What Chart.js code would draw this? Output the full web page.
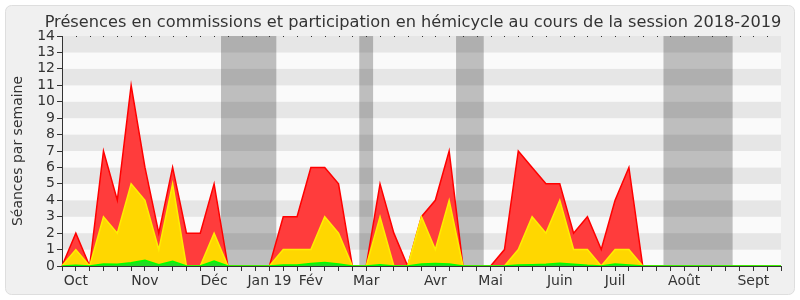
<!DOCTYPE html>
<html>
<head>
<meta charset="utf-8">
<script src="https://cdn.jsdelivr.net/npm/chart.js@4/dist/chart.umd.min.js"></script>
<style>
  html, body { margin: 0; padding: 0; background: #fff; }
  #wrap { width: 800px; height: 300px; }
</style>
</head>
<body>
<div id="wrap"><canvas id="chart" width="800" height="300"></canvas></div>
<script>
// weekly data, session 2018-2019 (53 points, one per week)
var presences = [0, 2, 0, 7, 4, 11, 6, 2, 6, 2, 2, 5, 0, 0, 0, 0, 3, 3, 6, 6, 5, 0, 0, 5, 2, 0, 3, 4, 7, 0, 0, 0, 1, 7, 6, 5, 5, 2, 3, 1, 4, 6, 0, 0, 0, 0, 0, 0, 0, 0, 0, 0, 0];
var commissions = [0, 1, 0, 3, 2, 5, 4, 1, 5, 0, 0, 2, 0, 0, 0, 0, 1, 1, 1, 3, 2, 0, 0, 3, 0, 0, 3, 1, 4, 0, 0, 0, 0, 1, 3, 2, 4, 1, 1, 0, 1, 1, 0, 0, 0, 0, 0, 0, 0, 0, 0, 0, 0];
var hemicycle = [0, 0.05, 0, 0.12, 0.1, 0.2, 0.35, 0.08, 0.28, 0, 0, 0.3, 0, 0, 0, 0, 0.06, 0.06, 0.15, 0.22, 0.12, 0, 0, 0.08, 0, 0, 0.12, 0.15, 0.12, 0, 0, 0, 0, 0.06, 0.08, 0.1, 0.16, 0.1, 0.04, 0, 0.12, 0.06, 0, 0, 0, 0, 0, 0, 0, 0, 0, 0, 0];

var monthNames = ['Oct', 'Nov', 'Déc', 'Jan 19', 'Fév', 'Mar', 'Avr', 'Mai', 'Juin', 'Juil', 'Août', 'Sept'];
var monthWeeks = [1, 6, 11, 15, 18, 22, 27, 31, 36, 40, 45, 50];

// vacances parlementaires (en semaines)
var vacStart = [11.5, 21.5, 28.5, 43.5];
var vacEnd = [15.5, 22.5, 30.5, 48.5];

var weekLabels = presences.map(function(v, i) {
    var k = monthWeeks.indexOf(i);
    return k >= 0 ? monthNames[k] : '';
});

var fontFamily = "'DejaVu Sans', Verdana, sans-serif";

//backgrounds, stripes, holiday bands and title
var decorPlugin = {
    id: 'decor',
    beforeDraw: function(chart) {
        var ctx = chart.ctx;
        var area = chart.chartArea;
        var x = chart.scales.x;
        var y = chart.scales.y;
        ctx.save();
        ctx.fillStyle = '#ffffff';
        ctx.fillRect(0, 0, chart.width, chart.height);
        ctx.beginPath();
        ctx.roundRect(5.5, 5.5, 789, 289, 6);
        ctx.fillStyle = '#f0f0f0';
        ctx.fill();
        ctx.strokeStyle = '#dedede';
        ctx.lineWidth = 1;
        ctx.stroke();

        for (var k = 0; k < 14; k++) {
            var top = y.getPixelForValue(k + 1);
            var bot = y.getPixelForValue(k);
            ctx.fillStyle = (k % 2 == 1) ? '#e6e6e6' : '#fafafa';
            ctx.fillRect(area.left, top, area.right - area.left, bot - top);
        }
        ctx.fillStyle = 'rgba(0,0,0,0.24)';
        for (var j = 0; j < vacStart.length; j++) {
            var x0 = x.getPixelForValue(vacStart[j]);
            var x1 = x.getPixelForValue(vacEnd[j]);
            ctx.fillRect(x0, area.top, x1 - x0, area.bottom - area.top);
        }

        ctx.fillStyle = '#333';
        ctx.font = '16.2px ' + fontFamily;
        ctx.textAlign = 'center';
        ctx.textBaseline = 'alphabetic';
        ctx.fillText('Présences en commissions et participation en hémicycle au cours de la session 2018-2019', 413, 26.5);
        ctx.restore();
    },
    afterDraw: function(chart) {
        var ctx = chart.ctx;
        var x = chart.scales.x;
        var top = chart.chartArea.top;
        ctx.save();
        ctx.fillStyle = '#333';
        for (var i = 1; i < weekLabels.length - 1; i++) {
            ctx.fillRect(Math.round(x.getPixelForValue(i)), top, 1, 1);
        }
        ctx.restore();
    }
};

const chart = new Chart(document.getElementById('chart').getContext('2d'), {
    type: 'line',
    plugins: [decorPlugin],
    data: {
        labels: weekLabels,
        datasets: [{
            data: hemicycle,
            borderColor: '#00ff00',
            backgroundColor: '#22dd22',
            fill: 'origin'
        }, {
            data: commissions,
            borderColor: '#ffee00',
            backgroundColor: '#ffd700',
            fill: 'origin'
        }, {
            data: presences,
            borderColor: '#ff0000',
            backgroundColor: '#ff3c3c',
            fill: 'origin'
        }]
    },
    options: {
        responsive: false,
        animation: false,
        layout: {
            padding: { top: 36, right: 19, bottom: 0, left: 0 }
        },
        elements: {
            point: { radius: 0 },
            line: { tension: 0, borderWidth: 1.5 }
        },
        plugins: {
            legend: { display: false },
            tooltip: { enabled: false }
        },
        scales: {
            x: {
                offset: false,
                afterFit: function(scale) { scale.height = 34; },
                grid: {
                    drawOnChartArea: false,
                    drawTicks: true,
                    tickLength: 5,
                    color: '#333'
                },
                border: { display: true, color: '#333' },
                ticks: {
                    autoSkip: false,
                    maxRotation: 0,
                    padding: 2,
                    color: '#333',
                    font: { family: fontFamily, size: 14 }
                }
            },
            y: {
                min: 0,
                max: 14,
                afterFit: function(scale) { scale.width = 62; },
                grid: {
                    drawOnChartArea: false,
                    drawTicks: true,
                    tickLength: 5,
                    color: '#333'
                },
                border: { display: true, color: '#333' },
                ticks: {
                    stepSize: 1,
                    autoSkip: false,
                    padding: 2,
                    color: '#333',
                    font: { family: fontFamily, size: 14 }
                },
                title: {
                    display: true,
                    text: 'Séances par semaine',
                    color: '#333',
                    padding: { top: 10, bottom: 0 },
                    font: { family: fontFamily, size: 14 }
                }
            }
        }
    }
});
</script>
</body>
</html>
